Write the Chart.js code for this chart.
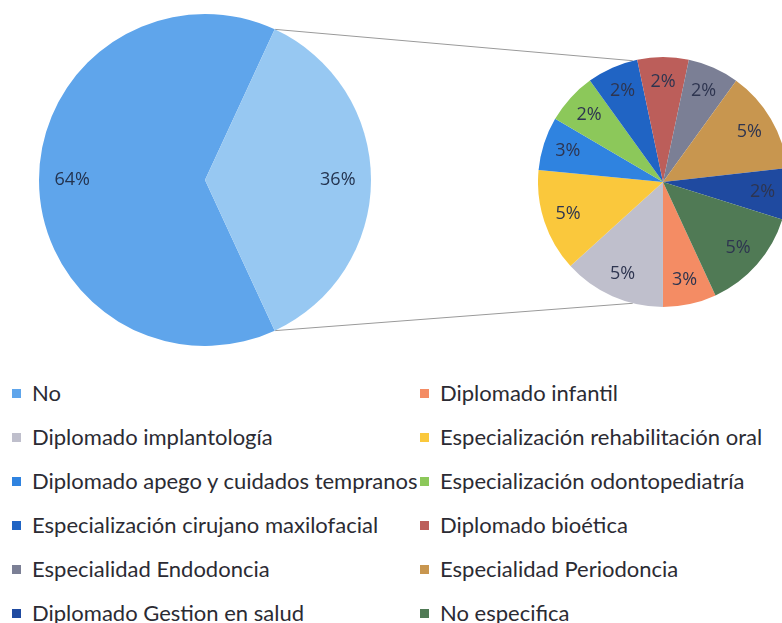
<!DOCTYPE html>
<html>
<head>
<meta charset="utf-8">
<script src="https://cdn.jsdelivr.net/npm/chart.js@4/dist/chart.umd.min.js"></script>
<style>
  html, body { margin: 0; padding: 0; background: #fff; overflow: hidden; width: 782px; height: 623px; }
  #wrap { position: relative; width: 782px; height: 623px; overflow: hidden; }
  canvas { position: absolute; }
  #lines { left: 0; top: 0; z-index: 0; }
  #bigPie { left: 39px; top: 14px; z-index: 1; }
  #smallPie { left: 538px; top: 57px; z-index: 1; }
  #legend {
    position: absolute; left: 0; top: 371px; width: 782px;
    display: grid; grid-template-columns: 420px 362px;
    font-family: Lato, "Open Sans", sans-serif; font-size: 22px; color: #2b2b33;
  }
  #legend .item { height: 44px; line-height: 44px; white-space: nowrap; display: flex; align-items: center; }
  #legend .item:nth-child(odd) { padding-left: 12px; }
  #legend .box { width: 9px; height: 9px; margin-right: 11px; flex: none; }
</style>
</head>
<body>
<div id="wrap">
  <canvas id="lines" width="782" height="370"></canvas>
  <canvas id="bigPie" width="332" height="332"></canvas>
  <canvas id="smallPie" width="250" height="250"></canvas>
  <div id="legend"></div>
</div>
<script>
// categories in legend order; first one is the big pie slice, the rest go to the small pie
const categories = [
  'No',
  'Diplomado infantil',
  'Diplomado implantología',
  'Especialización rehabilitación oral',
  'Diplomado apego y cuidados tempranos',
  'Especialización odontopediatría',
  'Especialización cirujano maxilofacial',
  'Diplomado bioética',
  'Especialidad Endodoncia',
  'Especialidad Periodoncia',
  'Diplomado Gestion en salud',
  'No especifica'
];
const percents = [63.8, 2.5, 4.8, 4.8, 2.5, 2.4, 2.4, 2.4, 2.4, 4.8, 2.4, 4.8];
const colors = [
  '#5FA5EB', '#F48C64', '#BFBFCC', '#FAC83C', '#2F83E0', '#8CC85A',
  '#2064C4', '#BC5E5A', '#7B7F95', '#C8964F', '#1F4AA0', '#507A55'
];
const otherColor = '#97C8F2';

const detailLabels = categories.slice(1);
const detailValues = percents.slice(1);
const detailColors = colors.slice(1);
const otherTotal = detailValues.reduce((a, b) => a + b, 0);
const bigValues = [percents[0], otherTotal];

// "other" slice is centred on the right, so rotate by half its sweep
const rotation = 90 + (otherTotal / (percents[0] + otherTotal)) * 180;

// percent labels drawn inside each slice
const sliceLabels = {
  id: 'sliceLabels',
  afterDatasetsDraw(chart, args, opts) {
    const ctx = chart.ctx;
    const ds = chart.data.datasets[0];
    ctx.save();
    ctx.font = opts.font;
    ctx.fillStyle = opts.color;
    ctx.textAlign = 'center';
    ctx.textBaseline = 'middle';
    chart.getDatasetMeta(0).data.forEach((arc, i) => {
      const p = arc.getProps(['x', 'y', 'startAngle', 'endAngle', 'outerRadius'], true);
      const mid = (p.startAngle + p.endAngle) / 2;
      const r = p.outerRadius * opts.at;
      ctx.fillText(Math.round(ds.data[i]) + '%', p.x + Math.cos(mid) * r, p.y + Math.sin(mid) * r);
    });
    ctx.restore();
  }
};

function pieOptions(labelColor) {
  return {
    responsive: false,
    animation: false,
    rotation: rotation,
    layout: { padding: 0 },
    elements: { arc: { borderWidth: 0 } },
    plugins: {
      legend: { display: false },
      tooltip: { enabled: false },
      sliceLabels: { font: '18px "Open Sans", sans-serif', color: labelColor, at: 0.8 }
    }
  };
}

const bigChart = new Chart(document.getElementById('bigPie'), {
  type: 'pie',
  data: {
    labels: ['No', 'Otros'],
    datasets: [{ data: bigValues, backgroundColor: [colors[0], otherColor], hoverOffset: 0 }]
  },
  options: pieOptions('#243450'),
  plugins: [sliceLabels]
});

const smallChart = new Chart(document.getElementById('smallPie'), {
  type: 'pie',
  data: {
    labels: detailLabels,
    datasets: [{ data: detailValues, backgroundColor: detailColors, hoverOffset: 0 }]
  },
  options: pieOptions('#2e3550'),
  plugins: [sliceLabels]
});

// connector lines from the split of the big pie to the small pie
function drawConnectors() {
  const canvas = document.getElementById('lines');
  const ctx = canvas.getContext('2d');
  const bigCanvas = document.getElementById('bigPie');
  const smallCanvas = document.getElementById('smallPie');
  const other = bigChart.getDatasetMeta(0).data[1];
  const b = other.getProps(['x', 'y', 'startAngle', 'endAngle', 'outerRadius'], true);
  const s = smallChart.getDatasetMeta(0).data[0].getProps(['x', 'y', 'outerRadius'], true);
  const bx = bigCanvas.offsetLeft + b.x, by = bigCanvas.offsetTop + b.y;
  const sx = smallCanvas.offsetLeft + s.x, sy = smallCanvas.offsetTop + s.y;
  const tilt = 14 * Math.PI / 180;
  const ends = [
    [b.startAngle, -Math.PI / 2 - tilt],
    [b.endAngle, Math.PI / 2 + tilt]
  ];
  ctx.strokeStyle = '#9a9a9a';
  ctx.lineWidth = 1;
  ends.forEach(([a1, a2]) => {
    ctx.beginPath();
    ctx.moveTo(bx + Math.cos(a1) * b.outerRadius, by + Math.sin(a1) * b.outerRadius);
    ctx.lineTo(sx + Math.cos(a2) * s.outerRadius, sy + Math.sin(a2) * s.outerRadius);
    ctx.stroke();
  });
}
drawConnectors();

// legend, two columns
const legend = document.getElementById('legend');
categories.forEach((name, i) => {
  const item = document.createElement('div');
  item.className = 'item';
  item.innerHTML = '<span class="box" style="background:' + colors[i] + '"></span>' + name;
  legend.appendChild(item);
});
</script>
</body>
</html>
